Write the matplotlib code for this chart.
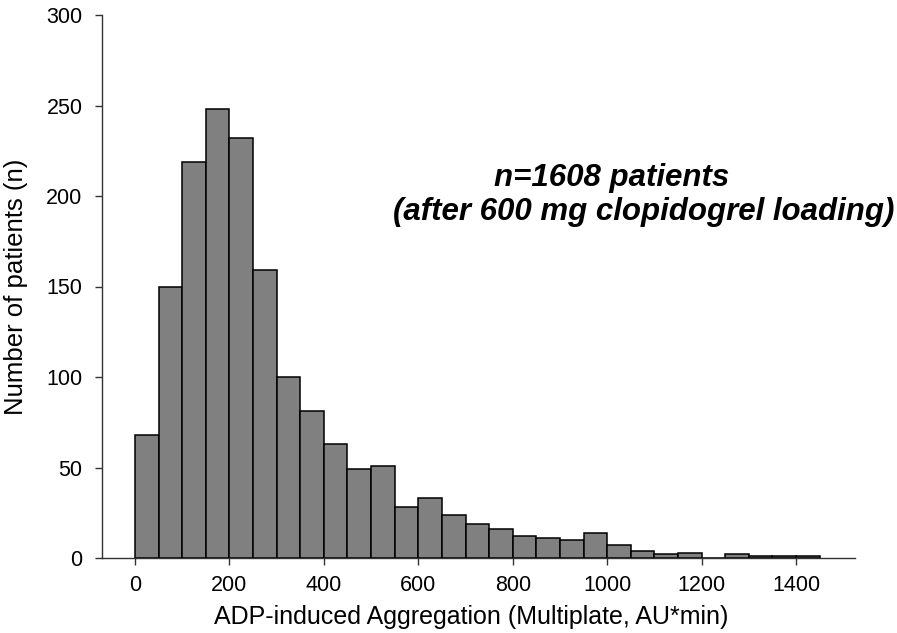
import matplotlib
matplotlib.use("Agg")
from matplotlib import pyplot as plt
import numpy as np

# histogram bins (AU*min), width 50
bin_left = np.arange(0, 1450, 50)
counts = [68, 150, 219, 248, 232, 159, 100, 81, 63, 49, 51, 28, 33, 24, 19,
          16, 12, 11, 10, 14, 7, 4, 2, 3, 0, 2, 1, 1, 1]
x_ticks = [0, 200, 400, 600, 800, 1000, 1200, 1400]
y_ticks = [0, 50, 100, 150, 200, 250, 300]

plt.rcParams['font.family'] = ['Liberation Sans', 'DejaVu Sans']

W, H = 897, 633
fig = plt.figure(figsize=(W / 100, H / 100), dpi=100)
ax = fig.add_axes([102 / W, 1 - 558 / H, (855 - 102) / W, (558 - 15) / H])

ax.bar(bin_left, counts, width=50, align='edge', color='#808080',
       edgecolor='black', linewidth=1.1)

ax.set_xlim(-70, 1525)
ax.set_ylim(0, 300)
ax.set_xticks(x_ticks)
ax.set_yticks(y_ticks)
ax.spines[['right', 'top']].set_visible(False)
for s in ['left', 'bottom']:
    ax.spines[s].set_linewidth(1.0)
    ax.spines[s].set_color('#333333')
ax.tick_params(direction='out', length=5, width=1.0, labelsize=15.5,
               color='#333333')
ax.tick_params(axis='x', pad=7)
ax.tick_params(axis='y', pad=9)

ax.set_xlabel("ADP-induced Aggregation (Multiplate, AU*min)", fontsize=18)
ax.xaxis.set_label_coords(0.49, -0.086)
ax.set_ylabel("Number of patients (n)", fontsize=18.5)
ax.yaxis.set_label_coords(-0.114, 0.5)
ax.yaxis.label.set_va('center')

fig.text(612 / W, 1 - 186 / H, "n=1608 patients", fontsize=22.5,
         fontweight='bold', fontstyle='italic', ha='center', va='baseline')
fig.text(894 / W, 1 - 220 / H, "(after 600 mg clopidogrel loading)",
         fontsize=22.5, fontweight='bold', fontstyle='italic',
         ha='right', va='baseline')

plt.savefig("out.png", dpi=100)
